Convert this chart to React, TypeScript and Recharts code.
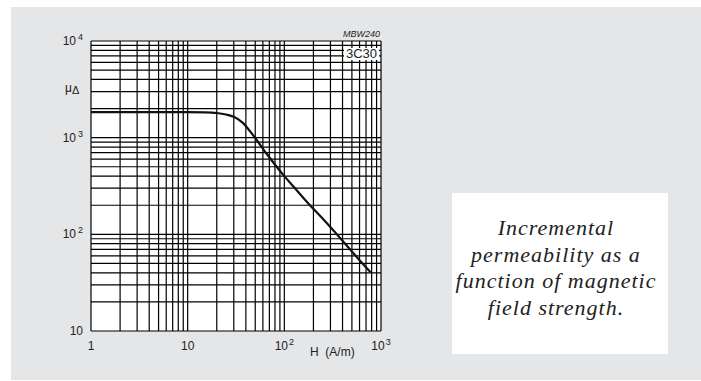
import { CartesianGrid, Line, LineChart, XAxis, YAxis } from "recharts";

// field strength H (A/m) and incremental permeability
const hValues = [1, 2, 5, 10, 15, 20, 25, 30, 37, 47, 65, 97, 125, 180, 250, 400, 600, 780];
const muValues = [1840, 1840, 1840, 1838, 1828, 1800, 1735, 1645, 1430, 1075, 690, 415, 310, 205, 145, 86, 54, 40.5];

const xTicks = [1, 10, 100, 1000];
const yTicks = [10, 100, 1000, 10000];
const mantissas = [1, 2, 3, 4, 5, 6, 7, 8, 9];

const gridX = [1, 10, 100].flatMap((d) => mantissas.map((m) => m * d)).concat(1000);
const gridY = [10, 100, 1000].flatMap((d) => mantissas.map((m) => m * d)).concat(10000);

const data = hValues.map((h, i) => ({ h, mu: muValues[i] }));

const FONT = '"Liberation Sans", Arial, sans-serif';

function powerLabel(v: number) {
  const exp = Math.round(Math.log10(v));
  if (exp <= 1) return { base: String(v), sup: "" };
  return { base: "10", sup: String(exp) };
}

const XTick = (props: any) => {
  const { x, y, payload } = props;
  const { base, sup } = powerLabel(payload.value);
  return (
    <text x={x} y={y + 19} textAnchor="middle" fontFamily={FONT} fontSize={12} fill="#222">
      {base}
      {sup && (
        <tspan dx={1} dy={-5} fontSize={9}>
          {sup}
        </tspan>
      )}
    </text>
  );
};

const YTick = (props: any) => {
  const { x, y, payload } = props;
  const { base, sup } = powerLabel(payload.value);
  return (
    <text x={x - 8} y={y + 4} textAnchor="end" fontFamily={FONT} fontSize={12} fill="#222">
      {base}
      {sup && (
        <tspan dx={2} dy={-5} fontSize={9}>
          {sup}
        </tspan>
      )}
    </text>
  );
};

export default function App() {
  return (
    <div style={{ position: "absolute", left: 0, top: 0, width: 701, height: 381, background: "#fff" }}>
      <div style={{ position: "absolute", left: 11, top: 7, width: 690, height: 373, background: "#e5e6e8" }} />
      <div style={{ position: "absolute", left: 0, top: 0 }}>
        <LineChart width={701} height={381} data={data} margin={{ top: 41, right: 320, bottom: 0, left: 0 }}>
          <CartesianGrid
            stroke="#000"
            strokeWidth={1.2}
            fill="#fff"
            fillOpacity={1}
            horizontalValues={gridY}
            verticalValues={gridX}
          />
          <XAxis
            dataKey="h"
            type="number"
            scale="log"
            domain={[1, 1000]}
            ticks={xTicks}
            allowDataOverflow
            axisLine={false}
            tickLine={false}
            tickSize={0}
            tickMargin={0}
            height={50}
            tick={<XTick />}
            interval={0}
          />
          <YAxis
            dataKey="mu"
            type="number"
            scale="log"
            domain={[10, 10000]}
            ticks={yTicks}
            allowDataOverflow
            axisLine={false}
            tickLine={false}
            tickSize={0}
            tickMargin={0}
            width={91}
            tick={<YTick />}
            interval={0}
          />
          <Line
            type="monotone"
            dataKey="mu"
            stroke="#111"
            strokeWidth={2.2}
            dot={false}
            isAnimationActive={false}
          />
          <text x={65} y={92} fontFamily={FONT} fontSize={12} fill="#222">
            μ
            <tspan dx={0} dy={2} fontSize={11}>
              Δ
            </tspan>
          </text>
          <text x={380} y={36.5} textAnchor="end" fontFamily={FONT} fontSize={9} fontStyle="italic" fill="#222">
            MBW240
          </text>
          <rect x={344} y={48} width={35} height={12} fill="#fff" />
          <text x={377} y={58} textAnchor="end" fontFamily={FONT} fontSize={13} fill="#222">
            3C30
          </text>
          <text x={310} y={356} fontFamily={FONT} fontSize={12} fill="#222" style={{ whiteSpace: "pre" }}>
            {"H  (A/m)"}
          </text>
        </LineChart>
      </div>
      <div
        style={{
          position: "absolute",
          left: 452,
          top: 193,
          width: 216,
          height: 161,
          background: "#fff",
          boxSizing: "border-box",
          paddingTop: 22,
          paddingRight: 8,
          textAlign: "center",
          fontFamily: '"Liberation Serif", "Times New Roman", serif',
          fontStyle: "italic",
          fontSize: 22,
          lineHeight: "26.6px",
          letterSpacing: 1,
          color: "#222",
        }}
      >
        Incremental
        <br />
        permeability as a
        <br />
        function of magnetic
        <br />
        field strength.
      </div>
    </div>
  );
}
